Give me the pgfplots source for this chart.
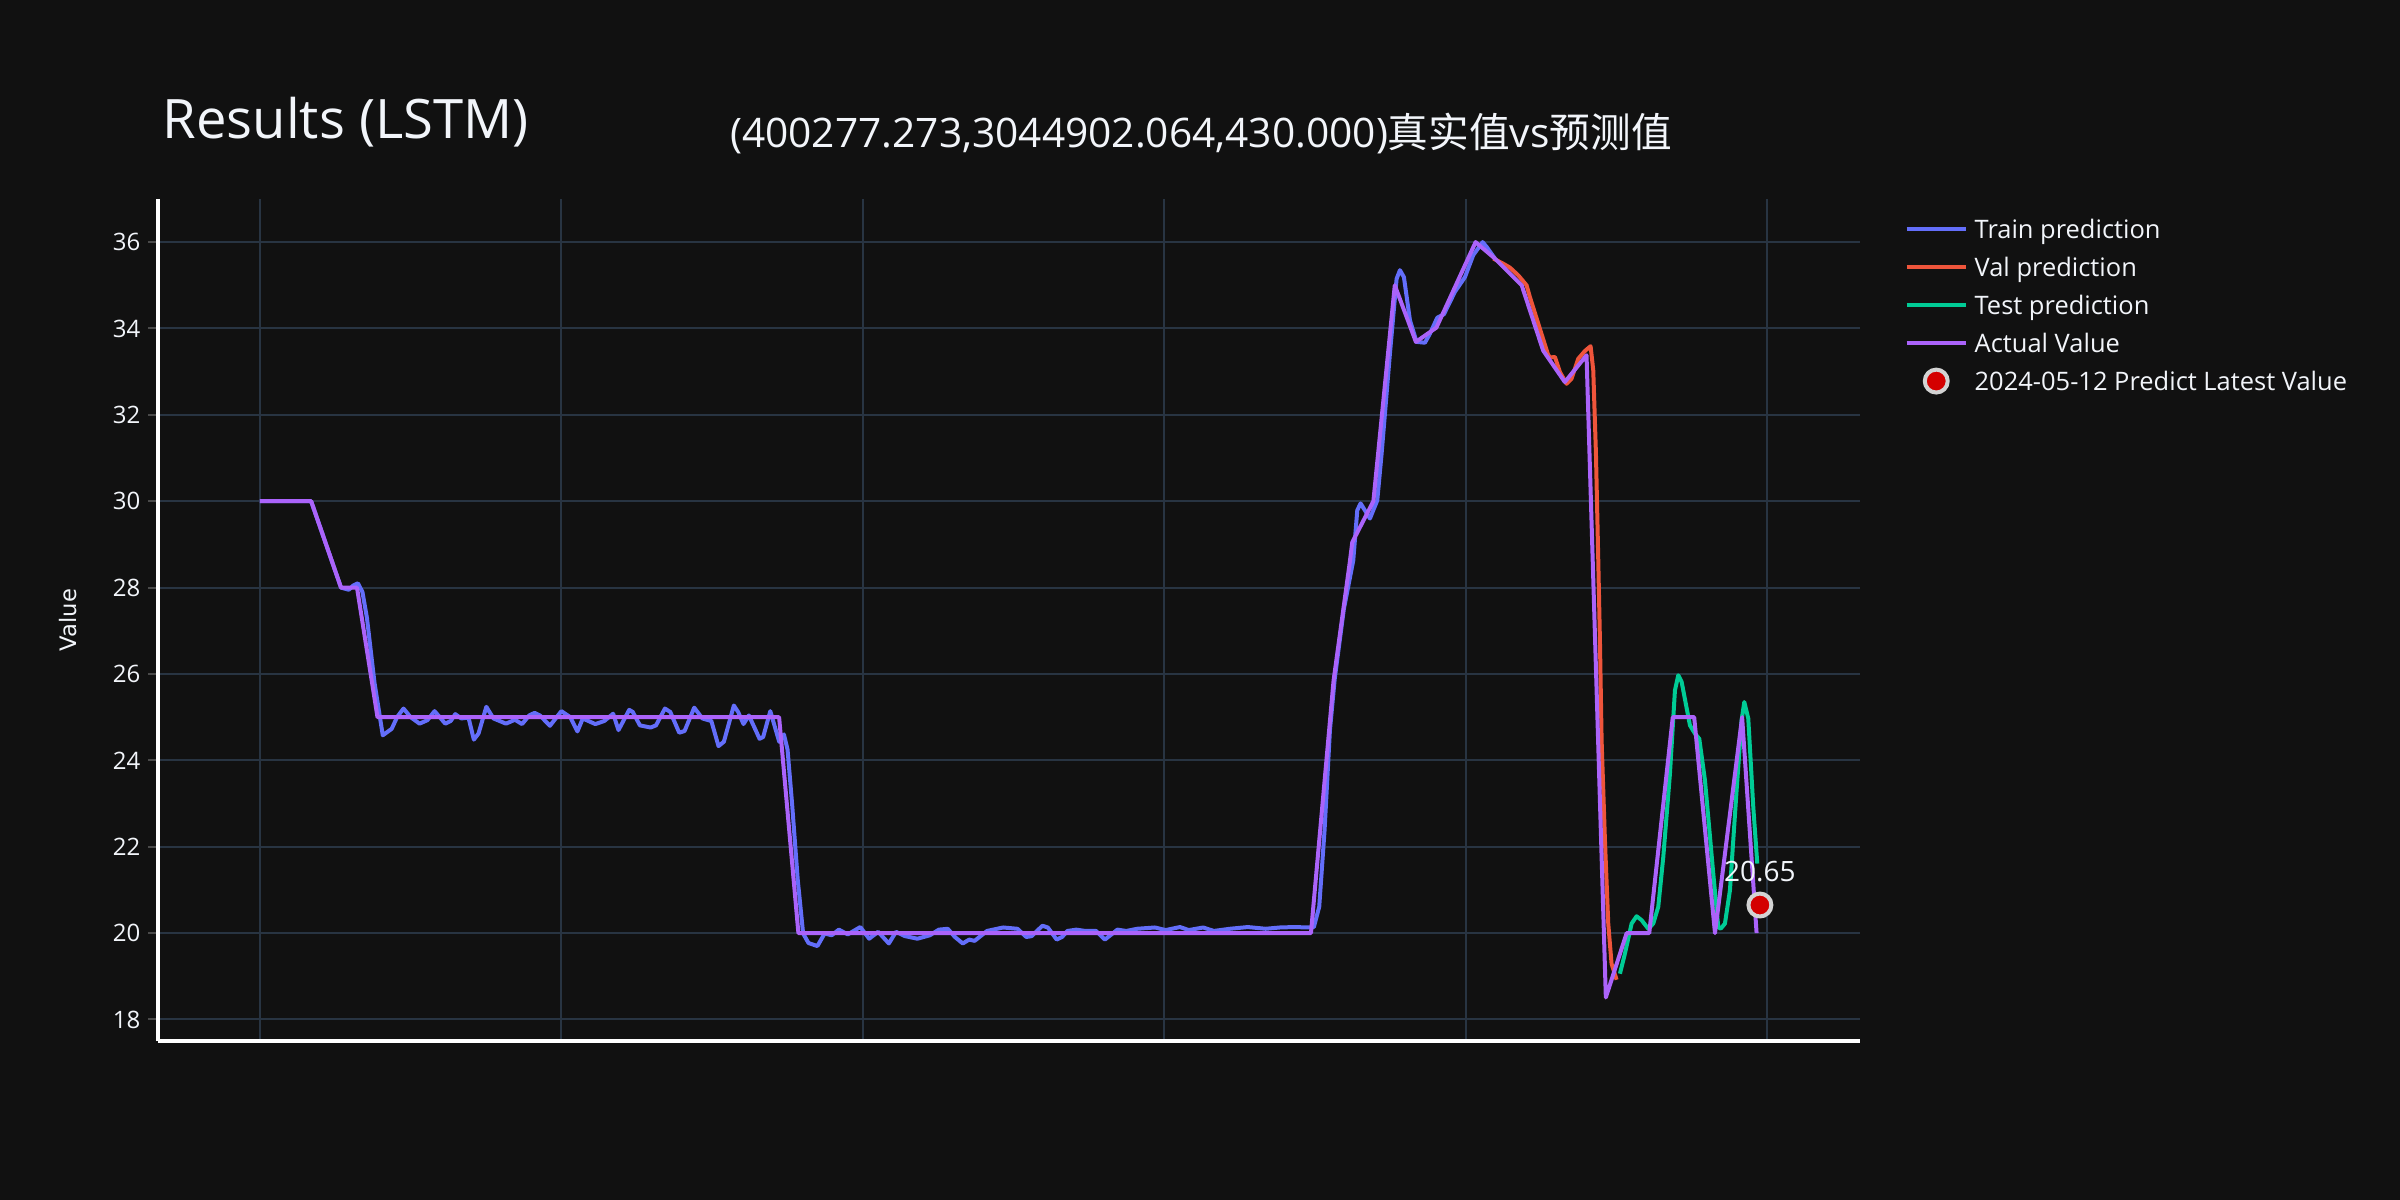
\documentclass[border=0pt]{standalone}
\usepackage{fontspec}
\setmainfont{Open Sans}
\newfontfamily\cjk{Noto Sans CJK SC}
\newfontfamily\dejavu{DejaVu Sans}
\usepackage{pgfplots}
\pgfplotsset{compat=1.18}
\definecolor{bgc}{HTML}{111111}
\definecolor{gridc}{HTML}{283442}
\definecolor{fgc}{HTML}{F2F5FA}
\definecolor{trainc}{HTML}{636EFA}
\definecolor{valc}{HTML}{EF553B}
\definecolor{testc}{HTML}{00CC96}
\definecolor{actc}{HTML}{AB63FA}
\definecolor{tickc}{HTML}{4A4A4A}
\definecolor{markred}{HTML}{D40000}
\definecolor{markbd}{HTML}{D3D3D3}
\begin{document}
\begin{tikzpicture}
\useasboundingbox (0,0) rectangle (900pt,450pt);
\fill[bgc] (0,0) rectangle (900pt,450pt);
\begin{axis}[
  at={(59.25pt,59.6pt)}, anchor=south west,
  width=638.25pt, height=315.8pt, scale only axis,
  xmin=-33.8, xmax=530.7, ymin=17.5, ymax=37,
  axis x line*=bottom, axis y line*=left,
  axis line style={white, line width=1.5pt, -},
  xtick={0,100,200,300,400,500}, xticklabels={},
  xtick style={draw=none},
  ytick={18,20,...,36},
  ytick style={tickc, line width=0.75pt},
  major tick length=3.75pt, tick align=outside,
  xmajorgrids, ymajorgrids,
  grid style={gridc, line width=0.75pt},
  /pgf/number format/assume math mode=true,
  yticklabel style={font=\fontsize{9}{10}\selectfont, text=fgc, inner sep=0pt, xshift=-2.7pt},
  ylabel={Value},
  ylabel style={font=\dejavu\fontsize{8.5}{10}\selectfont, text=fgc, at={(axis description cs:-0.0527,0.5)}, anchor=center},
  legend cell align=left,
  legend image code/.code={\draw[mark repeat=2,mark phase=2,#1] plot coordinates {(0pt,0pt) (11.15pt,0pt) (22.3pt,0pt)};},
  legend style={at={(1.02616,0.9802)}, anchor=north west, draw=none, fill=none, inner sep=0pt, outer sep=0pt,
    font=\fontsize{9.55}{11}\selectfont, text=fgc, row sep=4.15pt,
    nodes={inner sep=0pt, text height=8.6pt, text depth=1.5pt},
    /tikz/every odd column/.append style={column sep=2.5pt}},
  every axis plot/.append style={line width=1.5pt, line join=round},
]
\addplot[trainc] coordinates {
(0,30) (17,30) (26.9,28) (29.5,27.95) (31,28.05) (32.5,28.1) (34,27.9) (35.5,27.3) (38,25.8)
(40.75,24.58) (43.71,24.73) (45.49,25.0) (47.62,25.2) (49.99,25.0) (52.95,24.85) (55.56,24.93)
(57.93,25.14) (61.48,24.85) (63.26,24.91) (64.8,25.07) (66.81,24.97) (69.18,24.99) (70.96,24.48)
(72.5,24.62) (75.1,25.24) (77.47,24.97) (81.62,24.85) (84.58,24.94) (86.95,24.84) (89.32,25.04)
(91.1,25.1) (92.87,25.04) (96.19,24.8) (99.98,25.14) (102.94,25.0) (105.31,24.67) (107.09,24.97)
(111.23,24.84) (114.19,24.91) (117.16,25.08) (118.93,24.7) (122.49,25.17) (123.67,25.12)
(126.04,24.81) (129.59,24.76) (131.37,24.81) (134.33,25.2) (136.11,25.12) (139.07,24.64)
(140.85,24.68) (144.04,25.22) (146.77,24.97) (149.73,24.91) (152.1,24.33) (153.88,24.43)
(157.19,25.27) (158.62,25.12) (160.39,24.84) (162.17,25.04) (163.95,24.77) (165.72,24.5)
(166.91,24.54) (169.28,25.14) (170.82,24.77) (172.24,24.43) (173.8,24.6) (175,24.25) (176.5,23.0)
(178.4,21.22) (180.17,19.99) (181.95,19.77) (184.91,19.7) (187.28,19.99) (189.65,19.95)
(192.02,20.08) (194.98,19.97) (199.12,20.14) (202.08,19.87) (205.05,20.03) (208.6,19.76)
(210.97,20.03) (213.93,19.93) (218.08,19.87) (222.22,19.95) (225.18,20.08) (228.14,20.1)
(230.51,19.91) (233.12,19.76) (235.25,19.85) (237.03,19.82) (241.17,20.05) (246.5,20.13)
(251.24,20.1) (254.2,19.91) (255.98,19.93) (259.53,20.17) (261.31,20.13) (264.27,19.85)
(266.05,19.91) (267.83,20.05) (270.79,20.08) (273.75,20.05) (277.3,20.05) (280.26,19.85)
(284.41,20.08) (287.37,20.05) (290.93,20.1) (296.85,20.13) (300.4,20.07) (305.14,20.14)
(308.1,20.07) (312.84,20.13) (316.39,20.05) (321.72,20.1) (327.65,20.14) (333.57,20.1)
(338.31,20.13) (343.04,20.14) (347.78,20.13) (349.56,20.14) (351.34,20.61) (353.11,22.38)
(354.89,24.7) (356.5,25.9) (359.5,27.5) (362.63,28.63) (363.96,29.79) (365.06,29.95)
(368.16,29.6) (370.59,30.02) (372.03,31.1) (374.79,33.42) (377.0,35.15) (378.11,35.35)
(379.43,35.19) (381.43,34.19) (383.63,33.69) (386.4,33.67) (388.06,33.88) (390.49,34.25)
(392.7,34.33) (396.35,34.85) (399.67,35.19) (402.43,35.7) (405.53,36.0) (406.85,35.89) (409.6,35.62)
};
\addlegendentry{Train prediction}
\addplot[valc] coordinates {
(409.07,35.62) (412.38,35.5) (414.59,35.41) (417.36,35.23) (420.12,35.0) (421.2,34.73) (424.0,34.11)
(427.3,33.38) (428.08,33.33) (429.52,33.34) (431.18,32.99) (433.38,32.72) (435.04,32.84)
(437.25,33.3) (439.47,33.48) (441.35,33.59) (442.23,33.03) (443.12,31.1) (443.89,28.63)
(444.44,26.78) (445.0,24.46) (446.1,22.15) (447.2,20.22) (448.3,19.29) (449.97,18.92)
};
\addlegendentry{Val prediction}
\addplot[testc] coordinates {
(451.08,19.06) (452.74,19.53) (454.95,20.22) (456.6,20.39) (458.26,20.3) (460.47,20.1)
(462.13,20.22) (463.79,20.61) (465.45,21.76) (467.66,23.69) (469.32,25.62) (470.42,25.97)
(471.53,25.82) (474.3,24.81) (475.95,24.62) (477.39,24.5) (479.27,23.54) (482.03,21.38)
(483.69,20.14) (484.47,20.1) (485.9,20.22) (487.56,20.99) (489.77,23.31) (491.43,24.93)
(492.32,25.35) (493.64,24.97) (495.3,22.92) (496.63,21.61)
};
\addlegendentry{Test prediction}
\addplot[actc] coordinates {
(0,30) (17,30) (26.9,28) (32.2,28) (39,25) (172.2,25) (178.6,20) (348.6,20) (356.1,25.85)
(361.5,28.6) (362.3,29.05) (369.3,30.0) (376.4,35.0) (383.4,33.69) (390.2,34.02) (403.2,36.0)
(409.6,35.62) (418.5,35.0) (425.6,33.49) (432.8,32.76) (440.0,33.38) (446.4,18.51) (453.3,20)
(460.8,20) (468.6,25) (475.7,25) (482.6,20) (491.6,25) (496.4,20)
};
\addlegendentry{Actual Value}
\addplot[only marks, mark=*, mark size=4.3pt, draw=markbd, fill=markred, line width=1.5pt,
  nodes near coords, point meta=explicit symbolic,
  every node near coord/.append style={anchor=base, yshift=9pt, inner sep=0pt, text=fgc, font=\fontsize{10.5}{12}\selectfont}]
  coordinates {(497.5,20.65) [20.65]};
\addlegendentry{2024-05-12 Predict Latest Value}
\end{axis}
\node[anchor=base west, inner sep=0pt, text=fgc, font=\fontsize{20.4}{24}\selectfont] at (60.8pt,397.9pt) {Results (LSTM)};
\node[anchor=base west, inner sep=0pt, text=fgc, font=\fontsize{15.25}{18}\selectfont] at (273.6pt,394.8pt) {(400277.273,3044902.064,430.000){\cjk 真实值}vs{\cjk 预测值}};
\end{tikzpicture}
\end{document}
